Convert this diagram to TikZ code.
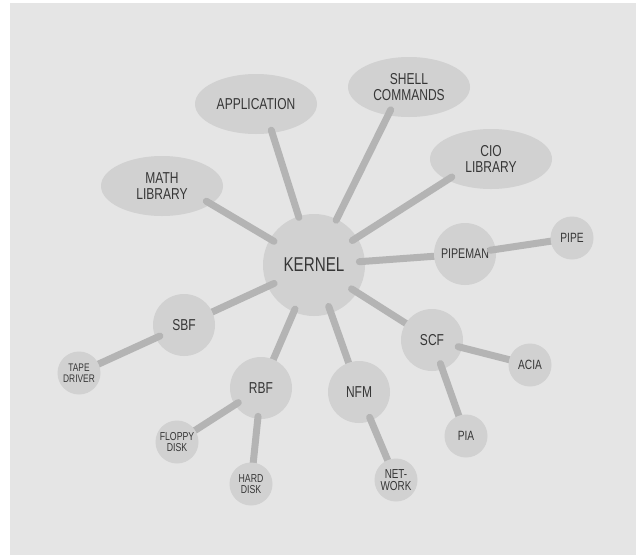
\documentclass[tikz,border=0pt]{standalone}
\usepackage{fontspec}
\setmainfont{Liberation Sans}[FakeStretch=0.76]
\usetikzlibrary{shapes.geometric}
\definecolor{bgc}{HTML}{E5E5E5}
\definecolor{nodec}{HTML}{D1D1D1}
\definecolor{linec}{HTML}{B4B4B4}
\definecolor{txtc}{HTML}{363636}
\newcommand\fsz[2]{\fontsize{#1}{#2}\selectfont}
\pgfdeclarelayer{bglayer}
\pgfdeclarelayer{lzero}
\pgfdeclarelayer{eone}
\pgfdeclarelayer{lone}
\pgfdeclarelayer{etwo}
\pgfsetlayers{bglayer,lzero,eone,lone,etwo,main}
\begin{document}
\begin{tikzpicture}[x=1pt,y=-1pt,
  blob/.style={fill=nodec, draw=none, text=txtc, align=center, inner sep=0pt},
  circ/.style={blob, circle, minimum size=#1},
  ell/.style={blob, ellipse, minimum width=122pt, minimum height=60pt, font=\fsz{15.8}{15.5}},
  midc/.style={circ=62pt, font=\fsz{15.8}{16}},
  leaf/.style={circ=43pt, font=\fsz{11.5}{11.5}},
  conn/.style={draw=linec, line width=7pt, line cap=round}]
\useasboundingbox (0,0) rectangle (636,555);
\begin{pgfonlayer}{bglayer}
  \fill[bgc] (10,3) rectangle (636,555);
\end{pgfonlayer}
% top level
\begin{pgfonlayer}{lzero}
  \node[circ=102pt, font=\fsz{20}{22}] (kernel) at (314,265) {KERNEL};
  \node[ell] (app) at (256,104) {APPLICATION};
  \node[ell] (math) at (162,186) {MATH\\LIBRARY};
  \node[ell] (shell) at (409,87) {SHELL\\COMMANDS};
  \node[ell] (cio) at (491,159) {CIO\\LIBRARY};
\end{pgfonlayer}
% middle circles
\begin{pgfonlayer}{lone}
  \node[midc, font=\fsz{14}{15}] (pipeman) at (465,254) {PIPEMAN};
  \node[midc] (scf) at (432,340) {SCF};
  \node[midc] (nfm) at (359,392) {NFM};
  \node[midc] (rbf) at (261,388) {RBF};
  \node[midc] (sbf) at (184,325) {SBF};
\end{pgfonlayer}
% leaves
\node[leaf, font=\fsz{13.4}{14}] (pipe) at (572,238) {PIPE};
\node[leaf, font=\fsz{13.4}{14}] (acia) at (530,365) {ACIA};
\node[leaf, font=\fsz{13.4}{14}] (pia) at (466,436) {PIA};
\node[leaf, font=\fsz{13}{12.5}] (network) at (396,480) {NET-\\WORK};
\node[leaf] (floppy) at (177,442) {FLOPPY\\DISK};
\node[leaf] (hard) at (251,484) {HARD\\DISK};
\node[leaf, font=\fsz{11}{11}] (tape) at (79,373) {TAPE\\DRIVER};
% kernel connectors
\begin{pgfonlayer}{eone}
  \draw[conn, shorten <=46.5pt, shorten >=51.5pt] (kernel.center) -- ([yshift=11pt]math.center);
  \draw[conn, shorten <=50pt, shorten >=27.5pt] (kernel.center) -- ([xshift=7pt]app.center);
  \draw[conn, shorten <=50pt, shorten >=25.5pt] (kernel.center) -- ([xshift=-7pt]shell.center);
  \draw[conn, shorten <=45.5pt, shorten >=46.5pt] (kernel.center) -- ([yshift=7pt]cio.center);
  \draw[conn, shorten <=45.5pt] (kernel.center) -- (pipeman.center);
  \draw[conn, shorten <=44.5pt] (kernel.center) -- (scf.center);
  \draw[conn, shorten <=44pt] (kernel.center) -- (nfm.center);
  \draw[conn, shorten <=48pt] (kernel.center) -- (rbf.center);
  \draw[conn, shorten <=44pt] (kernel.center) -- (sbf.center);
\end{pgfonlayer}
% child connectors
\begin{pgfonlayer}{etwo}
  \draw[conn, shorten <=25.5pt] (pipeman.center) -- (pipe.center);
  \draw[conn, shorten <=27pt] (scf.center) -- (acia.center);
  \draw[conn, shorten <=25pt] (scf.center) -- (pia.center);
  \draw[conn, shorten <=27.5pt] (nfm.center) -- (network.center);
  \draw[conn, shorten <=27pt] (rbf.center) -- (floppy.center);
  \draw[conn, shorten <=28.5pt] (rbf.center) -- (hard.center);
  \draw[conn, shorten <=26.5pt] (sbf.center) -- (tape.center);
\end{pgfonlayer}
\end{tikzpicture}
\end{document}
